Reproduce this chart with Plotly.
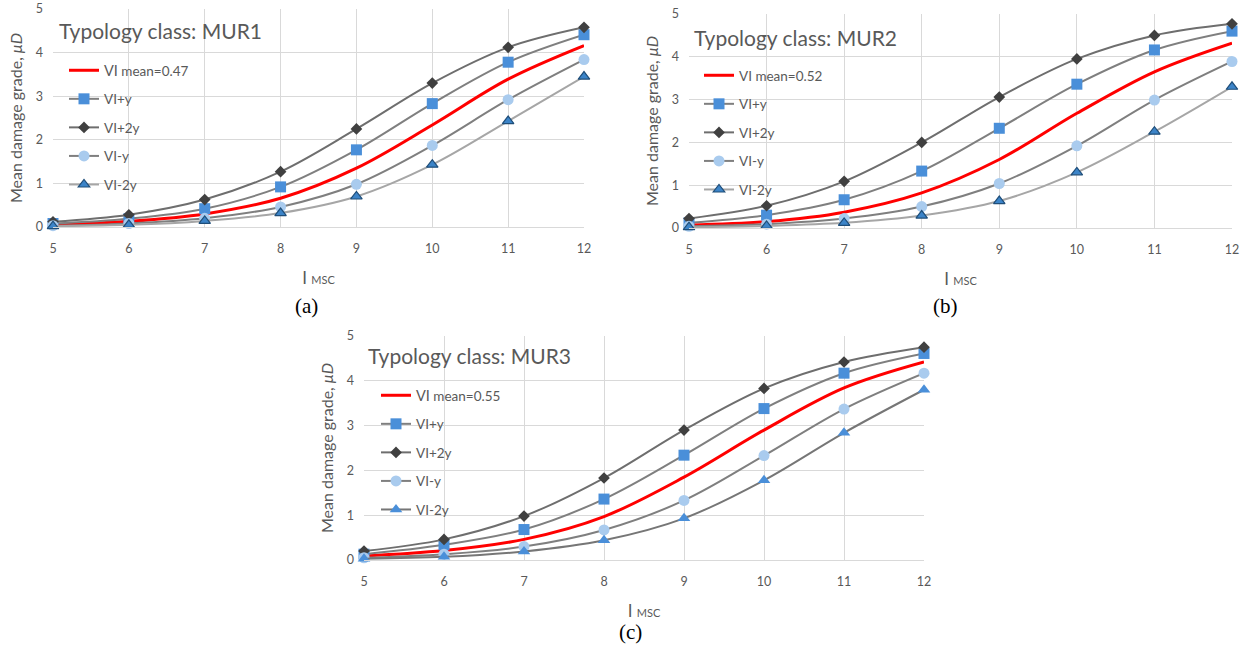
import plotly.graph_objects as go

intensity = [5, 6, 7, 8, 9, 10, 11, 12]
y_ticks = [0, 1, 2, 3, 4, 5]

mur1_mean = [0.05, 0.13, 0.30, 0.66, 1.35, 2.34, 3.39, 4.16]
mur1_p1 = [0.08, 0.19, 0.42, 0.92, 1.77, 2.83, 3.78, 4.41]
mur1_p2 = [0.12, 0.28, 0.63, 1.27, 2.25, 3.30, 4.12, 4.58]
mur1_m1 = [0.03, 0.08, 0.20, 0.46, 0.98, 1.87, 2.92, 3.84]
mur1_m2 = [0.02, 0.05, 0.14, 0.32, 0.70, 1.43, 2.43, 3.45]

mur2_mean = [0.07, 0.15, 0.37, 0.82, 1.60, 2.68, 3.65, 4.32]
mur2_p1 = [0.12, 0.30, 0.66, 1.33, 2.33, 3.36, 4.16, 4.60]
mur2_p2 = [0.22, 0.52, 1.09, 2.00, 3.06, 3.95, 4.50, 4.77]
mur2_m1 = [0.04, 0.09, 0.22, 0.50, 1.04, 1.92, 2.99, 3.89]
mur2_m2 = [0.02, 0.05, 0.12, 0.29, 0.63, 1.30, 2.25, 3.30]

mur3_mean = [0.09, 0.21, 0.46, 0.97, 1.85, 2.90, 3.84, 4.42]
mur3_p1 = [0.13, 0.34, 0.68, 1.36, 2.34, 3.38, 4.17, 4.61]
mur3_p2 = [0.20, 0.46, 0.98, 1.83, 2.90, 3.83, 4.42, 4.75]
mur3_m1 = [0.05, 0.13, 0.30, 0.67, 1.33, 2.33, 3.37, 4.17]
mur3_m2 = [0.03, 0.07, 0.19, 0.44, 0.93, 1.78, 2.84, 3.80]

panel_titles = ["Typology class: MUR1", "Typology class: MUR2", "Typology class: MUR3"]
mean_labels = ["<span style='font-size:14.5px'>VI</span> mean=0.47",
               "VI mean=0.52",
               "<span style='font-size:14.5px'>VI</span> mean=0.55"]
series_labels = ["VI+y", "VI+2y", "VI-y", "VI-2y"]
captions = ["(a)", "(b)", "(c)"]

FONT = "Lato"
GRAY_TXT = "#595959"
GRID = "#d9d9d9"

fig = go.Figure()

panels = [
    dict(data=[mur1_mean, mur1_p1, mur1_p2, mur1_m1, mur1_m2], xa="x", ya="y", leg="legend", tri_border=True, m2_line="#a6a6a6"),
    dict(data=[mur2_mean, mur2_p1, mur2_p2, mur2_m1, mur2_m2], xa="x2", ya="y2", leg="legend2", tri_border=True, m2_line="#a6a6a6"),
    dict(data=[mur3_mean, mur3_p1, mur3_p2, mur3_m1, mur3_m2], xa="x3", ya="y3", leg="legend3", tri_border=False, m2_line="#767676"),
]

for pi, p in enumerate(panels):
    mean, p1, p2, m1, m2 = p["data"]
    common = dict(x=intensity, xaxis=p["xa"], yaxis=p["ya"], legend=p["leg"], cliponaxis=False)
    fig.add_trace(go.Scatter(y=mean, name=mean_labels[pi], mode="lines",
                             line=dict(color="#ff0000", width=3, shape="spline"),
                             legendgroup=f"{pi}a", **common))
    fig.add_trace(go.Scatter(y=p1, name=series_labels[0], mode="lines+markers",
                             line=dict(color="#7f7f7f", width=2, shape="spline"),
                             marker=dict(symbol="square", size=11, color="#4a8fd9"),
                             legendgroup=f"{pi}b", **common))
    fig.add_trace(go.Scatter(y=p2, name=series_labels[1], mode="lines+markers",
                             line=dict(color="#6e6e6e", width=2, shape="spline"),
                             marker=dict(symbol="diamond", size=9, color="#404040"),
                             legendgroup=f"{pi}c", **common))
    fig.add_trace(go.Scatter(y=m1, name=series_labels[2], mode="lines+markers",
                             line=dict(color="#7f7f7f", width=2, shape="spline"),
                             marker=dict(symbol="circle", size=11, color="#a9cbee"),
                             legendgroup=f"{pi}d", **common))
    if p["tri_border"]:
        tri = dict(symbol="triangle-up", size=10, color="#3c84c8",
                   line=dict(color="#1f4e79", width=1.2))
    else:
        tri = dict(symbol="triangle-up", size=11, color="#4a8fd9", line=dict(width=0))
    fig.add_trace(go.Scatter(y=m2, name=series_labels[3], mode="lines+markers",
                             line=dict(color=p["m2_line"], width=2, shape="spline"),
                             marker=tri, legendgroup=f"{pi}e", **common))

W, H = 1244, 647

def xd(a, b):
    return [a / W, b / W]

def yd(top, bottom):
    return [1 - bottom / H, 1 - top / H]

axis_x = dict(range=[5, 12], tickvals=intensity, showgrid=True, gridcolor=GRID, gridwidth=1,
              showline=True, linecolor=GRID, linewidth=1, zeroline=False, ticks="",
              ticklabelstandoff=10, tickfont=dict(family=FONT, size=12.5, color=GRAY_TXT),
              title=dict(text="I <span style='font-size:11px'>MSC</span>",
                         font=dict(family=FONT, size=17, color=GRAY_TXT), standoff=17))
axis_y = dict(range=[0, 5], tickvals=y_ticks, showgrid=True, gridcolor=GRID, gridwidth=1,
              showline=False, zeroline=False, ticks="", ticklabelstandoff=9,
              tickfont=dict(family=FONT, size=12.5, color=GRAY_TXT),
              title=dict(text="Mean damage grade, <i>μD</i>",
                         font=dict(family=FONT, size=16, color=GRAY_TXT), standoff=9))

leg_common = dict(bgcolor="rgba(0,0,0,0)", borderwidth=0, xanchor="left", yanchor="top",
                  font=dict(family=FONT, size=13.5, color=GRAY_TXT), tracegroupgap=8,
                  itemsizing="trace")

fig.update_layout(
    template="none",
    width=W, height=H, autosize=False,
    margin=dict(l=0, r=0, t=0, b=0),
    paper_bgcolor="white", plot_bgcolor="white",
    showlegend=True,
    xaxis=dict(domain=xd(53, 584), anchor="y", **axis_x),
    yaxis=dict(domain=yd(9, 227), anchor="x", **axis_y),
    xaxis2=dict(domain=xd(689, 1232), anchor="y2", **axis_x),
    yaxis2=dict(domain=yd(14, 228), anchor="x2", **axis_y),
    xaxis3=dict(domain=xd(364, 924), anchor="y3", **axis_x),
    yaxis3=dict(domain=yd(336, 560), anchor="x3", **axis_y),
    legend=dict(x=64 / W, y=1 - 55 / H, **leg_common),
    legend2=dict(x=699 / W, y=1 - 60 / H, **leg_common),
    legend3=dict(x=376 / W, y=1 - 380 / H, **leg_common),
)

title_pos = [(57, 31), (692, 37), (366, 355)]
for t, (px, py) in zip(panel_titles, title_pos):
    fig.add_annotation(text=t, xref="paper", yref="paper", x=px / W, y=1 - py / H,
                       xanchor="left", yanchor="middle", showarrow=False,
                       font=dict(family=FONT, size=21, color=GRAY_TXT))

cap_pos = [(306, 306), (946, 306), (630, 632)]
for c, (px, py) in zip(captions, cap_pos):
    fig.add_annotation(text=c, xref="paper", yref="paper", x=px / W, y=1 - py / H,
                       xanchor="center", yanchor="middle", showarrow=False,
                       font=dict(family="Liberation Serif", size=21, color="black"))

fig.write_html("out.html", config={"displayModeBar": False},
               post_script="document.body.style.margin='0';document.body.style.overflow='hidden';")
